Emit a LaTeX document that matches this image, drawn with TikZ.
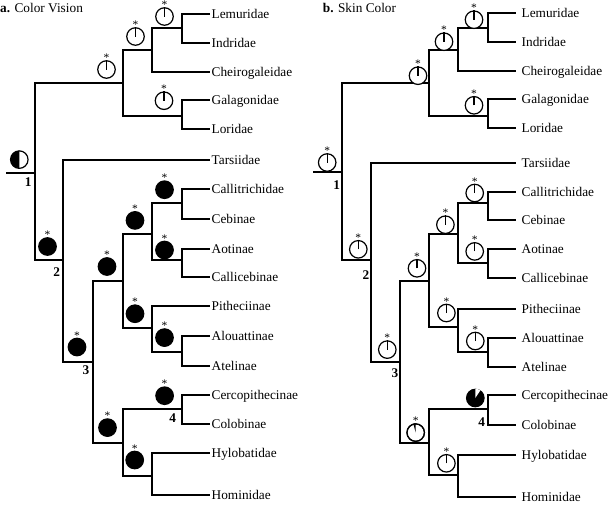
\documentclass[tikz,border=0pt]{standalone}
\usepackage{fontspec}
\setmainfont{Liberation Serif}
\usetikzlibrary{calc}
\tikzset{
  br/.style={line width=1.8pt},
  taxon/.style={anchor=base west, inner sep=0pt, font=\fontsize{13.3}{15}\selectfont},
  num/.style={inner sep=0pt, font=\bfseries\fontsize{13.3}{15}\selectfont},
  ttl/.style={anchor=base west, inner sep=0pt, font=\fontsize{13.3}{15}\selectfont},
  opn/.style={circle, draw, fill=white, line width=1.2pt, minimum size=17.5pt, inner sep=0pt},
  blk/.style={circle, draw, fill=black, line width=1.2pt, minimum size=17.5pt, inner sep=0pt},
  bare/.style={circle, minimum size=17.5pt, inner sep=0pt},
  ast/.style={anchor=base, inner sep=0pt, font=\fontsize{11.5}{11.5}\selectfont},
}
\newcommand\OpenSym[2]{%
  \node[opn] (#1) at (#2) {};
  \draw[line width=1.2pt] (#1.center) -- (#1.north);
  \node[ast] (#1s) at ([yshift=7.8pt]#1.center) {*};
}
\newcommand\BlackSym[2]{%
  \node[blk] (#1) at (#2) {};
  \node[ast] (#1s) at ([yshift=7.8pt]#1.center) {*};
}
\begin{document}
\begin{tikzpicture}[x=1pt,y=-1pt]
\useasboundingbox (0,0) rectangle (609,504);

% ================= panel a =================
\node[ttl] (ta) at (0,12.5) {\textbf{a.} Color Vision};

\coordinate (a0) at (6,173);
\coordinate (a1) at (35,173);
\coordinate (aS) at (123,83);
\coordinate (aU) at (152,50);
\coordinate (aLI) at (182,28);
\coordinate (aGL) at (182,116);
\coordinate (a2) at (63,260);
\coordinate (a3) at (93,362);
\coordinate (aP) at (123,281);
\coordinate (aC) at (152,234);
\coordinate (aCC) at (182,203);
\coordinate (aAC) at (182,260);
\coordinate (aAt) at (152,328);
\coordinate (aAA) at (182,352);
\coordinate (aK) at (123,443);
\coordinate (aCo) at (182,409);
\coordinate (aH) at (152,476);

\coordinate (atLem) at (210,14);
\coordinate (atInd) at (210,43);
\coordinate (atChe) at (210,72);
\coordinate (atGal) at (210,100);
\coordinate (atLor) at (210,129);
\coordinate (atTar) at (210,160);
\coordinate (atCal) at (210,189);
\coordinate (atCeb) at (210,219);
\coordinate (atAot) at (210,249);
\coordinate (atClb) at (210,277);
\coordinate (atPit) at (210,306);
\coordinate (atAlo) at (210,336);
\coordinate (atAte) at (210,366);
\coordinate (atCer) at (210,395);
\coordinate (atCol) at (210,424);
\coordinate (atHyl) at (210,453);
\coordinate (atHom) at (210,495);

\draw[br] (a0) -- (a1);
\draw[br] (a1) |- (aS);
\draw[br] (a1) |- (a2);
\draw[br] (aS) |- (aU);
\draw[br] (aS) |- (aGL);
\draw[br] (aU) |- (aLI);
\draw[br] (aU) |- (atChe);
\draw[br] (aLI) |- (atLem);
\draw[br] (aLI) |- (atInd);
\draw[br] (aGL) |- (atGal);
\draw[br] (aGL) |- (atLor);
\draw[br] (a2) |- (atTar);
\draw[br] (a2) |- (a3);
\draw[br] (a3) |- (aP);
\draw[br] (a3) |- (aK);
\draw[br] (aP) |- (aC);
\draw[br] (aP) |- (aAt);
\draw[br] (aC) |- (aCC);
\draw[br] (aC) |- (aAC);
\draw[br] (aCC) |- (atCal);
\draw[br] (aCC) |- (atCeb);
\draw[br] (aAC) |- (atAot);
\draw[br] (aAC) |- (atClb);
\draw[br] (aAt) |- (atPit);
\draw[br] (aAt) |- (aAA);
\draw[br] (aAA) |- (atAlo);
\draw[br] (aAA) |- (atAte);
\draw[br] (aK) |- (aCo);
\draw[br] (aK) |- (aH);
\draw[br] (aCo) |- (atCer);
\draw[br] (aCo) |- (atCol);
\draw[br] (aH) |- (atHyl);
\draw[br] (aH) |- (atHom);

\foreach \c/\t in {atLem/Lemuridae, atInd/Indridae, atChe/Cheirogaleidae,
  atGal/Galagonidae, atLor/Loridae, atTar/Tarsiidae, atCal/Callitrichidae,
  atCeb/Cebinae, atAot/Aotinae, atClb/Callicebinae, atPit/Pitheciinae,
  atAlo/Alouattinae, atAte/Atelinae, atCer/Cercopithecinae, atCol/Colobinae,
  atHyl/Hylobatidae, atHom/Hominidae}
  \node[taxon] (l\c) at ([xshift=1.5pt,yshift=-4.6pt]\c) {\t};

% symbols a
\node[bare] (sa1) at ($(a1)+(-15.7,-13.4)$) {};
\fill[white] (sa1.center) circle[radius=8.75pt];
\fill (sa1.center) -- (sa1.north) arc[start angle=90, end angle=270, radius=8.75pt] -- cycle;
\draw[line width=1.2pt] (sa1.center) circle[radius=8.75pt];
\OpenSym{saS}{$(aS)+(-16.5,-13.5)$}
\OpenSym{saU}{$(aU)+(-16.5,-13.5)$}
\OpenSym{saLI}{$(aLI)+(-17.5,-11.5)$}
\OpenSym{saGL}{$(aGL)+(-18,-15.3)$}
\BlackSym{sa2}{$(a2)+(-15.5,-13.5)$}
\BlackSym{sa3}{$(a3)+(-16,-15)$}
\BlackSym{saP}{$(aP)+(-16,-14.5)$}
\BlackSym{saC}{$(aC)+(-17,-13.6)$}
\BlackSym{saCC}{$(aCC)+(-17.5,-13.3)$}
\BlackSym{saAC}{$(aAC)+(-17.5,-10)$}
\BlackSym{saAt}{$(aAt)+(-17,-14.3)$}
\BlackSym{saAA}{$(aAA)+(-17.5,-14.4)$}
\BlackSym{saK}{$(aK)+(-15.5,-15.4)$}
\BlackSym{saCo}{$(aCo)+(-17.4,-13.3)$}
\BlackSym{saH}{$(aH)+(-17.3,-16)$}

\node[num] (na1) at (28.3,182) {1};
\node[num] (na2) at (56.7,271.7) {2};
\node[num] (na3) at (86,370) {3};
\node[num] (na4) at (172.7,417.7) {4};

% ================= panel b =================
\node[ttl] (tb) at (322.7,12.7) {\textbf{b.} Skin Color};

\coordinate (b0) at (313,172);
\coordinate (b1) at (342,172);
\coordinate (bS) at (429,83);
\coordinate (bU) at (458,50);
\coordinate (bLI) at (488,28);
\coordinate (bGL) at (488,116);
\coordinate (b2) at (371,260);
\coordinate (b3) at (400,362);
\coordinate (bP) at (429,281);
\coordinate (bC) at (458,234);
\coordinate (bCC) at (488,203);
\coordinate (bAC) at (488,263);
\coordinate (bAt) at (458,327);
\coordinate (bAA) at (488,352);
\coordinate (bK) at (429,443);
\coordinate (bCo) at (488,409);
\coordinate (bH) at (458,475);

\coordinate (btLem) at (516,13);
\coordinate (btInd) at (516,42);
\coordinate (btChe) at (516,71);
\coordinate (btGal) at (516,99);
\coordinate (btLor) at (516,128);
\coordinate (btTar) at (516,163);
\coordinate (btCal) at (516,192);
\coordinate (btCeb) at (516,220);
\coordinate (btAot) at (516,249);
\coordinate (btClb) at (516,278);
\coordinate (btPit) at (516,309);
\coordinate (btAlo) at (516,338);
\coordinate (btAte) at (516,367);
\coordinate (btCer) at (516,395);
\coordinate (btCol) at (516,425);
\coordinate (btHyl) at (516,455);
\coordinate (btHom) at (516,497);

\draw[br] (b0) -- (b1);
\draw[br] (b1) |- (bS);
\draw[br] (b1) |- (b2);
\draw[br] (bS) |- (bU);
\draw[br] (bS) |- (bGL);
\draw[br] (bU) |- (bLI);
\draw[br] (bU) |- (btChe);
\draw[br] (bLI) |- (btLem);
\draw[br] (bLI) |- (btInd);
\draw[br] (bGL) |- (btGal);
\draw[br] (bGL) |- (btLor);
\draw[br] (b2) |- (btTar);
\draw[br] (b2) |- (b3);
\draw[br] (b3) |- (bP);
\draw[br] (b3) |- (bK);
\draw[br] (bP) |- (bC);
\draw[br] (bP) |- (bAt);
\draw[br] (bC) |- (bCC);
\draw[br] (bC) |- (bAC);
\draw[br] (bCC) |- (btCal);
\draw[br] (bCC) |- (btCeb);
\draw[br] (bAC) |- (btAot);
\draw[br] (bAC) |- (btClb);
\draw[br] (bAt) |- (btPit);
\draw[br] (bAt) |- (bAA);
\draw[br] (bAA) |- (btAlo);
\draw[br] (bAA) |- (btAte);
\draw[br] (bK) |- (bCo);
\draw[br] (bK) |- (bH);
\draw[br] (bCo) |- (btCer);
\draw[br] (bCo) |- (btCol);
\draw[br] (bH) |- (btHyl);
\draw[br] (bH) |- (btHom);

\foreach \c/\t in {btLem/Lemuridae, btInd/Indridae, btChe/Cheirogaleidae,
  btGal/Galagonidae, btLor/Loridae, btTar/Tarsiidae, btCal/Callitrichidae,
  btCeb/Cebinae, btAot/Aotinae, btClb/Callicebinae, btPit/Pitheciinae,
  btAlo/Alouattinae, btAte/Atelinae, btCer/Cercopithecinae, btCol/Colobinae,
  btHyl/Hylobatidae, btHom/Hominidae}
  \node[taxon] (l\c) at ([xshift=5.5pt,yshift=-4.6pt]\c) {\t};

% symbols b
\OpenSym{sb1}{$(b1)+(-14.8,-9.5)$}
\OpenSym{sbS}{$(bS)+(-11,-7.3)$}
\OpenSym{sbU}{$(bU)+(-14,-8.3)$}
\OpenSym{sbLI}{$(bLI)+(-14,-8.3)$}
\OpenSym{sbGL}{$(bGL)+(-14,-10.7)$}
\OpenSym{sb2}{$(b2)+(-12.7,-10.7)$}
\OpenSym{sb3}{$(b3)+(-12.7,-12.4)$}
\OpenSym{sbP}{$(bP)+(-12,-12.7)$}
\OpenSym{sbC}{$(bC)+(-12.6,-9.3)$}
\OpenSym{sbCC}{$(bCC)+(-13.3,-10)$}
\OpenSym{sbAC}{$(bAC)+(-13.3,-11.6)$}
\OpenSym{sbAt}{$(bAt)+(-11.6,-14)$}
\OpenSym{sbAA}{$(bAA)+(-12.7,-11)$}
\OpenSym{sbH}{$(bH)+(-11.6,-11.7)$}
% catarrhine: mostly white, thin black wedge
\node[opn] (sbK) at ($(bK)+(-13.3,-10.4)$) {};
\fill (sbK.center) -- (sbK.north) arc[start angle=90, end angle=106, radius=8.75pt] -- cycle;
\draw[line width=1.2pt] (sbK.center) circle[radius=8.75pt];
\node[ast] (sbKs) at ([yshift=7.8pt]sbK.center) {*};
% cercopithecid: mostly black, white wedge
\node[blk] (sbCo) at ($(bCo)+(-12.7,-11)$) {};
\fill[white] (sbCo.center) -- (sbCo.north) arc[start angle=90, end angle=50, radius=7.8pt] -- cycle;

\node[num] (nb1) at (336.7,185) {1};
\node[num] (nb2) at (366,275) {2};
\node[num] (nb3) at (395,373.3) {3};
\node[num] (nb4) at (481.7,421.7) {4};
\end{tikzpicture}
\end{document}
